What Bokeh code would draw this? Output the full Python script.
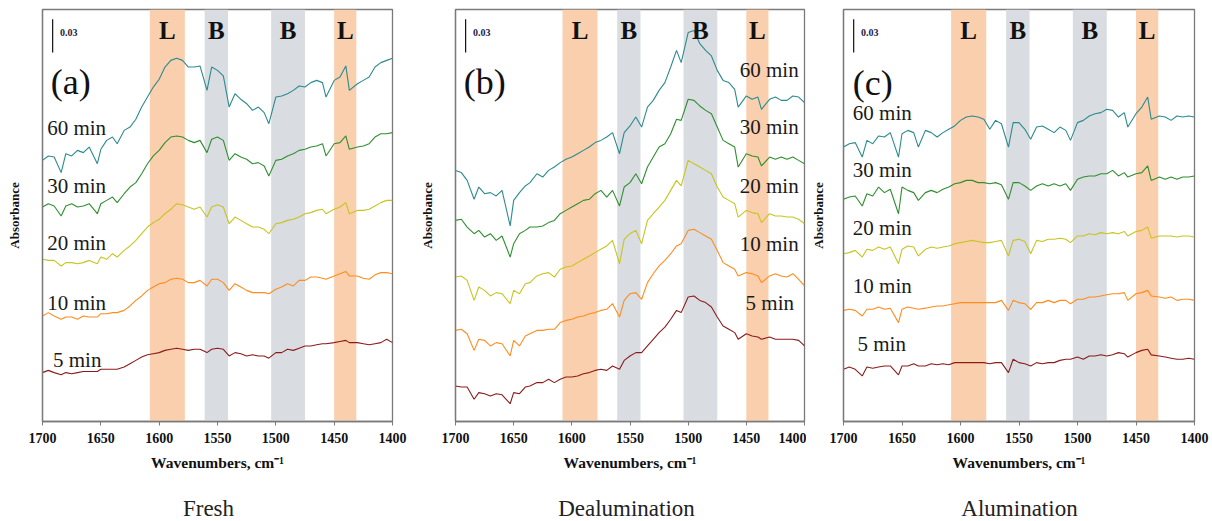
import numpy as np
from bokeh.plotting import figure
from bokeh.models import Range1d, FixedTicker, Label, BoxAnnotation, ColumnDataSource
from bokeh.layouts import row, column
from bokeh.embed import file_html
from bokeh.resources import INLINE

# ---------------- data (absorbance in mAU, stacked spectra) ----------------
wavenumber = [1700, 1695, 1690, 1684, 1680, 1675, 1670, 1665, 1660, 1653,
              1650, 1645, 1640, 1636, 1630, 1625, 1620, 1615, 1610, 1605,
              1600, 1595, 1590, 1585, 1580, 1575, 1570, 1565, 1559, 1555,
              1550, 1545, 1540, 1535, 1530, 1525, 1520, 1515, 1510, 1506,
              1500, 1495, 1490, 1485, 1480, 1475, 1470, 1465, 1460, 1457,
              1450, 1445, 1440, 1437, 1430, 1425, 1420, 1415, 1410, 1405, 1400]

fresh_60 = [235, 239, 238, 224, 241, 239, 244, 242, 247, 232, 245, 253, 256, 250, 262,
            265, 272, 283, 292, 301, 308, 319, 325, 327, 325, 319, 319, 320, 298, 319,
            316, 311, 283, 295, 290, 286, 280, 283, 278, 268, 292, 293, 295, 298, 302,
            301, 305, 307, 305, 292, 307, 310, 320, 298, 304, 307, 310, 319, 323, 325, 327]
fresh_30 = [193, 196, 194, 185, 194, 196, 193, 194, 196, 187, 196, 199, 202, 197, 205,
            211, 215, 223, 232, 239, 244, 251, 256, 257, 256, 253, 251, 253, 242, 254,
            256, 253, 235, 241, 238, 236, 232, 233, 230, 221, 235, 236, 239, 241, 244,
            245, 247, 248, 250, 239, 250, 251, 257, 245, 247, 248, 250, 256, 259, 259, 260]
fresh_20 = [146, 145, 145, 140, 143, 143, 142, 143, 145, 142, 148, 146, 151, 148, 154,
            158, 163, 169, 175, 179, 182, 187, 191, 196, 195, 193, 191, 193, 184, 193,
            195, 193, 178, 184, 181, 178, 175, 175, 173, 169, 178, 179, 181, 182, 184,
            187, 188, 190, 191, 187, 191, 193, 197, 187, 190, 190, 191, 194, 197, 199, 199]
fresh_10 = [95, 98, 95, 92, 94, 94, 92, 95, 94, 94, 97, 97, 98, 98, 100,
            104, 109, 113, 118, 121, 124, 125, 128, 129, 128, 125, 125, 127, 122, 128,
            128, 125, 118, 124, 121, 118, 116, 116, 116, 115, 119, 121, 124, 122, 127,
            127, 130, 130, 129, 128, 131, 133, 135, 131, 131, 129, 128, 132, 134, 134, 133]
fresh_5 = [44, 46, 44, 42, 44, 43, 44, 45, 45, 45, 47, 47, 47, 47, 49,
           52, 55, 58, 60, 61, 62, 64, 65, 66, 65, 64, 65, 65, 62, 65,
           66, 65, 59, 62, 61, 59, 60, 59, 59, 57, 62, 62, 65, 64, 66,
           68, 68, 69, 70, 70, 71, 72, 73, 71, 71, 70, 69, 70, 71, 74, 71]

dealum_60 = [226, 224, 217, 200, 211, 205, 206, 203, 208, 176, 199, 206, 212, 215, 223,
             220, 226, 229, 233, 236, 238, 241, 244, 247, 251, 253, 256, 260, 241, 260,
             266, 274, 265, 283, 289, 298, 305, 319, 334, 323, 350, 352, 340, 334, 329,
             316, 307, 305, 299, 283, 293, 290, 292, 281, 290, 292, 289, 289, 293, 292, 287]
dealum_30 = [181, 182, 175, 169, 172, 166, 169, 163, 167, 148, 160, 169, 172, 175, 175,
             176, 179, 181, 187, 190, 193, 196, 199, 200, 205, 208, 202, 208, 194, 211,
             215, 223, 214, 229, 238, 247, 250, 259, 272, 271, 290, 289, 284, 280, 277,
             265, 253, 250, 247, 229, 241, 239, 238, 230, 238, 236, 238, 236, 238, 235, 232]
dealum_20 = [130, 131, 127, 109, 121, 118, 113, 116, 115, 106, 118, 115, 124, 125, 131,
             133, 134, 130, 137, 139, 140, 143, 146, 149, 152, 155, 158, 163, 142, 164,
             169, 172, 160, 181, 187, 193, 199, 208, 217, 212, 235, 232, 229, 226, 223,
             211, 202, 199, 196, 184, 190, 188, 187, 179, 187, 185, 185, 184, 184, 182, 178]
dealum_10 = [82, 83, 79, 64, 74, 73, 68, 71, 70, 59, 73, 68, 77, 79, 82,
             82, 83, 83, 89, 91, 92, 94, 95, 97, 98, 100, 101, 106, 94, 109,
             115, 116, 110, 125, 133, 140, 145, 151, 158, 160, 172, 173, 170, 167, 164,
             154, 143, 140, 137, 131, 134, 133, 131, 125, 131, 133, 131, 130, 133, 128, 122]
dealum_5 = [32, 31, 31, 20, 26, 25, 23, 25, 24, 16, 26, 25, 31, 32, 35,
            35, 38, 35, 38, 40, 40, 41, 43, 44, 46, 47, 46, 50, 47, 55,
            59, 62, 62, 68, 74, 80, 85, 92, 100, 98, 112, 113, 109, 107, 103,
            94, 86, 83, 80, 74, 79, 77, 76, 74, 76, 74, 74, 74, 74, 73, 68]

alum_60 = [247, 250, 251, 238, 253, 250, 257, 256, 260, 238, 259, 262, 260, 247, 262,
           260, 256, 260, 263, 266, 271, 274, 275, 274, 272, 263, 271, 268, 247, 269,
           269, 263, 254, 265, 266, 263, 260, 265, 262, 253, 269, 271, 275, 277, 278,
           281, 280, 274, 278, 265, 277, 283, 292, 272, 275, 274, 271, 275, 274, 275, 274]
alum_30 = [200, 202, 203, 194, 205, 203, 211, 206, 209, 187, 211, 208, 206, 199, 206,
           208, 206, 209, 211, 214, 215, 217, 217, 215, 215, 214, 215, 213, 200, 215,
           215, 212, 208, 212, 214, 212, 214, 212, 214, 208, 218, 220, 221, 221, 223,
           223, 226, 221, 224, 220, 223, 224, 230, 217, 220, 218, 220, 218, 220, 220, 221]
alum_20 = [151, 152, 154, 148, 155, 154, 157, 155, 157, 142, 155, 158, 157, 149, 155,
           157, 156, 157, 158, 160, 161, 162, 163, 162, 161, 161, 162, 163, 149, 163,
           164, 162, 151, 163, 162, 164, 164, 165, 164, 161, 167, 167, 169, 168, 170,
           169, 170, 169, 171, 167, 171, 172, 175, 165, 167, 167, 167, 166, 167, 167, 166]
alum_10 = [100, 101, 100, 95, 101, 101, 103, 101, 102, 89, 101, 103, 102, 101, 102,
           103, 104, 104, 105, 106, 107, 107, 107, 107, 107, 107, 107, 109, 100, 109,
           107, 106, 101, 107, 107, 109, 107, 109, 109, 106, 110, 110, 112, 112, 113,
           114, 115, 115, 116, 109, 115, 116, 118, 113, 112, 111, 112, 109, 110, 110, 109]
alum_5 = [47, 49, 47, 41, 49, 48, 49, 50, 50, 42, 50, 50, 52, 50, 50,
          52, 51, 52, 51, 53, 53, 53, 53, 53, 53, 52, 53, 53, 44, 56,
          53, 52, 50, 53, 52, 53, 53, 55, 56, 56, 58, 56, 59, 59, 60,
          59, 60, 62, 61, 58, 62, 64, 65, 60, 59, 58, 57, 56, 56, 57, 56]

time_labels = ["60 min", "30 min", "20 min", "10 min", "5 min"]
panel_letters = ["(a)", "(b)", "(c)"]
panel_names = ["Fresh", "Dealumination", "Alumination"]
lewis_bands = [(1608, 1578), (1450, 1431)]
bronsted_bands = [(1561, 1541), (1504, 1475)]
band_tags = ["L", "B", "B", "L"]
x_ticks = [1700, 1650, 1600, 1550, 1500, 1450, 1400]
scale_bar = 0.03

# ---------------- styling ----------------
SERIF = "Liberation Serif"
curve_colors = ["#2b8b8f", "#2f8f2f", "#c8c420", "#ff8c1e", "#8b1c1c"]
L_COLOR = "#f9cfad"
B_COLOR = "#d9dce1"
FRAME = "#7a7a7a"
MAIN_H = 490
CAP_H = 31


def make_panel(series, letter, width, b_left, b_right, lab_x, lab_y, lab_align,
               lab5_x, letter_x, letter_y, y_standoff):
    p = figure(width=width, height=MAIN_H, output_backend="svg", toolbar_location=None,
               x_range=Range1d(1700, 1400), y_range=Range1d(0, 0.3708),
               min_border_left=b_left, min_border_right=b_right,
               min_border_top=9, min_border_bottom=MAIN_H - 421)
    p.background_fill_color = "white"
    p.border_fill_color = "white"
    p.outline_line_color = FRAME
    p.outline_line_width = 1.3
    p.xgrid.visible = False
    p.ygrid.visible = False

    # bands
    for (a, b) in lewis_bands:
        p.add_layout(BoxAnnotation(left=a, right=b, fill_color=L_COLOR, fill_alpha=1.0,
                                   line_alpha=0, level="underlay"))
    for (a, b) in bronsted_bands:
        p.add_layout(BoxAnnotation(left=a, right=b, fill_color=B_COLOR, fill_alpha=1.0,
                                   line_alpha=0, level="underlay"))
    band_centers = sorted([(a + b) / 2 for a, b in lewis_bands + bronsted_bands], reverse=True)
    for tag, xc in zip(band_tags, band_centers):
        p.add_layout(Label(x=xc, y=0.352, text=tag, text_font=SERIF, text_font_size="25px",
                           text_font_style="bold", text_align="center",
                           text_baseline="middle", text_color="#111111"))

    # spectra
    for vals, col in zip(series, curve_colors):
        src = ColumnDataSource(dict(x=wavenumber, y=np.array(vals) / 1000.0))
        p.line("x", "y", source=src, line_color=col, line_width=1.1)

    # time labels
    for i, (t, y) in enumerate(zip(time_labels, lab_y)):
        p.add_layout(Label(x=lab5_x if i == 4 else lab_x, y=y, text=t, text_font=SERIF,
                           text_font_size="21px", text_align=lab_align,
                           text_baseline="middle", text_color="#1a1a1a"))

    # panel letter
    p.add_layout(Label(x=letter_x, y=letter_y, text=letter, text_font=SERIF,
                       text_font_size="36px", text_align="left", text_baseline="middle",
                       text_color="#111111"))

    # scale bar
    sb = ColumnDataSource(dict(x0=[1691.3], y0=[0.332], x1=[1691.3], y1=[0.332 + scale_bar]))
    p.segment("x0", "y0", "x1", "y1", source=sb, line_color="#111111", line_width=1.2)
    p.add_layout(Label(x=1685, y=0.350, text=f"{scale_bar:.2f}", text_font=SERIF,
                       text_font_size="10px", text_font_style="bold", text_align="left",
                       text_baseline="middle", text_color="#1c1c44"))

    # axes
    xa = p.xaxis[0]
    xa.ticker = FixedTicker(ticks=x_ticks)
    xa.minor_tick_line_color = None
    xa.major_tick_in = 0
    xa.major_tick_out = 4
    xa.major_tick_line_color = FRAME
    xa.axis_line_color = FRAME
    xa.axis_line_width = 1.3
    xa.major_label_text_font = SERIF
    xa.major_label_text_font_style = "bold"
    xa.major_label_text_font_size = "14px"
    xa.major_label_text_color = "#111111"
    xa.major_label_standoff = 7
    xa.axis_label = "Wavenumbers, cm\u207b\u00b9"
    xa.axis_label_text_font = SERIF
    xa.axis_label_text_font_style = "bold"
    xa.axis_label_text_font_size = "15.5px"
    xa.axis_label_text_color = "#111111"
    xa.axis_label_standoff = 8

    ya = p.yaxis[0]
    ya.ticker = FixedTicker(ticks=[])
    ya.minor_tick_line_color = None
    ya.major_tick_out = 0
    ya.major_tick_in = 0
    ya.major_label_text_font_size = "0px"
    ya.major_label_standoff = 0
    ya.axis_line_color = FRAME
    ya.axis_line_width = 1.3
    ya.axis_label = "Absorbance"
    ya.axis_label_text_font = SERIF
    ya.axis_label_text_font_style = "bold"
    ya.axis_label_text_font_size = "13px"
    ya.axis_label_text_color = "#111111"
    ya.axis_label_standoff = y_standoff
    return p


def make_caption(name, width, cx):
    c = figure(width=width, height=CAP_H, output_backend="svg", toolbar_location=None,
               x_range=Range1d(0, width), y_range=Range1d(0, CAP_H),
               min_border=0, min_border_left=0, min_border_right=0,
               min_border_top=0, min_border_bottom=0)
    c.axis.visible = False
    c.grid.visible = False
    c.outline_line_color = None
    c.background_fill_color = "white"
    c.border_fill_color = "white"
    c.add_layout(Label(x=cx, y=CAP_H - 18, text=name, text_font=SERIF,
                       text_font_size="23px", text_align="center", text_baseline="middle",
                       text_color="#222222"))
    return c


pa = make_panel([fresh_60, fresh_30, fresh_20, fresh_10, fresh_5], panel_letters[0],
                width=410, b_left=42, b_right=18,
                lab_x=1696, lab_y=[0.264, 0.212, 0.161, 0.107, 0.055], lab_align="left",
                lab5_x=1691, letter_x=1693, letter_y=0.306, y_standoff=21)
pb = make_panel([dealum_60, dealum_30, dealum_20, dealum_10, dealum_5], panel_letters[1],
                width=396, b_left=45, b_right=2,
                lab_x=1405, lab_y=[0.316, 0.265, 0.212, 0.160, 0.107], lab_align="right",
                lab5_x=1409, letter_x=1693, letter_y=0.306, y_standoff=21)
pc = make_panel([alum_60, alum_30, alum_20, alum_10, alum_5], panel_letters[2],
                width=406, b_left=37, b_right=18,
                lab_x=1692, lab_y=[0.278, 0.226, 0.174, 0.122, 0.070], lab_align="left",
                lab5_x=1688, letter_x=1692, letter_y=0.305, y_standoff=18)

ca = make_caption(panel_names[0], 410, 208)
cb = make_caption(panel_names[1], 396, 216)
cc = make_caption(panel_names[2], 406, 213)

layout = column(row(pa, pb, pc), row(ca, cb, cc))
open("out.html", "w").write(file_html(layout, INLINE))
